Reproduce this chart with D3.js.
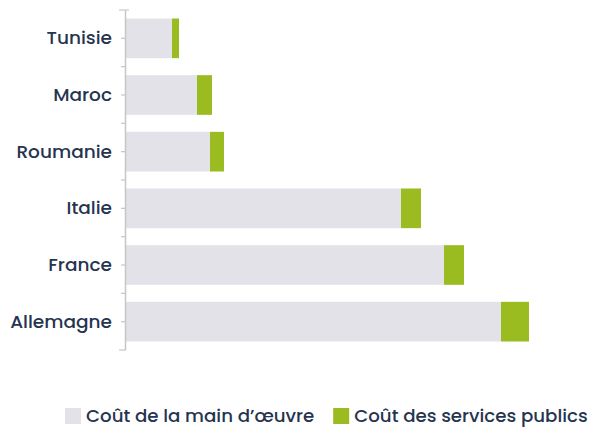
<!DOCTYPE html>
<html>
<head>
<meta charset="utf-8">
<script src="https://cdn.jsdelivr.net/npm/d3@7"></script>
<style>
  body { margin: 0; background: #fff; }
  text { font-family: Poppins, "Open Sans", "Noto Sans", sans-serif; fill: #26344f; }
</style>
</head>
<body>
<script>
// data
var pays = ["Tunisie", "Maroc", "Roumanie", "Italie", "France", "Allemagne"];
var mainOeuvre = [4.6, 7.1, 8.4, 27.5, 31.8, 37.5];
var servicesPublics = [0.7, 1.5, 1.4, 2.0, 2.0, 2.8];
var seriesNames = ["Coût de la main d\u2019œuvre", "Coût des services publics"];
var colors = ["#e3e2e8", "#9bbc21"];

var margin = {top: 10, right: 30, bottom: 79, left: 125},
    width = 590 - margin.left - margin.right,
    height = 429 - margin.top - margin.bottom;

var svg = d3.select("body").append("svg")
    .attr("width", 590)
    .attr("height", 429);

var g = svg.append("g")
    .attr("transform", "translate(" + margin.left + "," + margin.top + ")");

var y = d3.scaleBand()
    .domain(pays)
    .range([0, height])
    .paddingInner(0.3)
    .paddingOuter(0.15);

var x = d3.scaleLinear()
    .domain([0, 43.5])
    .range([0, width]);

var data = pays.map(function(p, i) {
    return {pays: p, main: mainOeuvre[i], serv: servicesPublics[i]};
});

var stack = d3.stack().keys(["main", "serv"])(data);

g.selectAll(".serie")
    .data(stack)
    .enter().append("g")
    .attr("fill", function(d, i) { return colors[i]; })
    .selectAll("rect")
    .data(function(d) { return d; })
    .enter().append("rect")
    .attr("x", function(d) { return x(d[0]) + 1; })
    .attr("y", function(d) { return y(d.data.pays); })
    .attr("width", function(d) { return x(d[1]) - x(d[0]); })
    .attr("height", y.bandwidth());

// y axis
var axis = g.append("g")
    .call(d3.axisLeft(y).tickSize(4).tickPadding(9).tickSizeOuter(0));
axis.select(".domain").attr("stroke", "#c6c6c6").attr("stroke-width", 1.5);
axis.selectAll(".tick line").attr("stroke", "#c6c6c6").attr("stroke-width", 1.2);
axis.selectAll(".tick text")
    .style("font-size", "18.5px")
    .style("font-weight", 500)
    .attr("fill", "#26344f");

// separator ticks between categories
var bounds = d3.range(pays.length + 1).map(function(i) { return i * y.step(); });
g.selectAll(".sep")
    .data(bounds)
    .enter().append("line")
    .attr("x1", function(d, i) { return (i === 0 || i === pays.length) ? -6 : -4; })
    .attr("x2", function(d, i) { return (i === 0) ? 4 : 0; })
    .attr("y1", function(d) { return d; })
    .attr("y2", function(d) { return d; })
    .attr("stroke", "#c6c6c6")
    .attr("stroke-width", 1.2);

// legend
var legend = svg.append("g").attr("transform", "translate(65,416)");
var xpos = 0;
seriesNames.forEach(function(name, i) {
    var item = legend.append("g").attr("transform", "translate(" + xpos + ",0)");
    item.append("rect")
        .attr("x", 0).attr("y", -8)
        .attr("width", 16).attr("height", 16)
        .attr("fill", colors[i]);
    var t = item.append("text")
        .attr("x", 21)
        .attr("dy", "0.35em")
        .style("font-size", "18.2px")
        .style("font-weight", 500)
        .text(name);
    xpos += 21 + t.node().getComputedTextLength() + 19;
});
</script>
</body>
</html>
